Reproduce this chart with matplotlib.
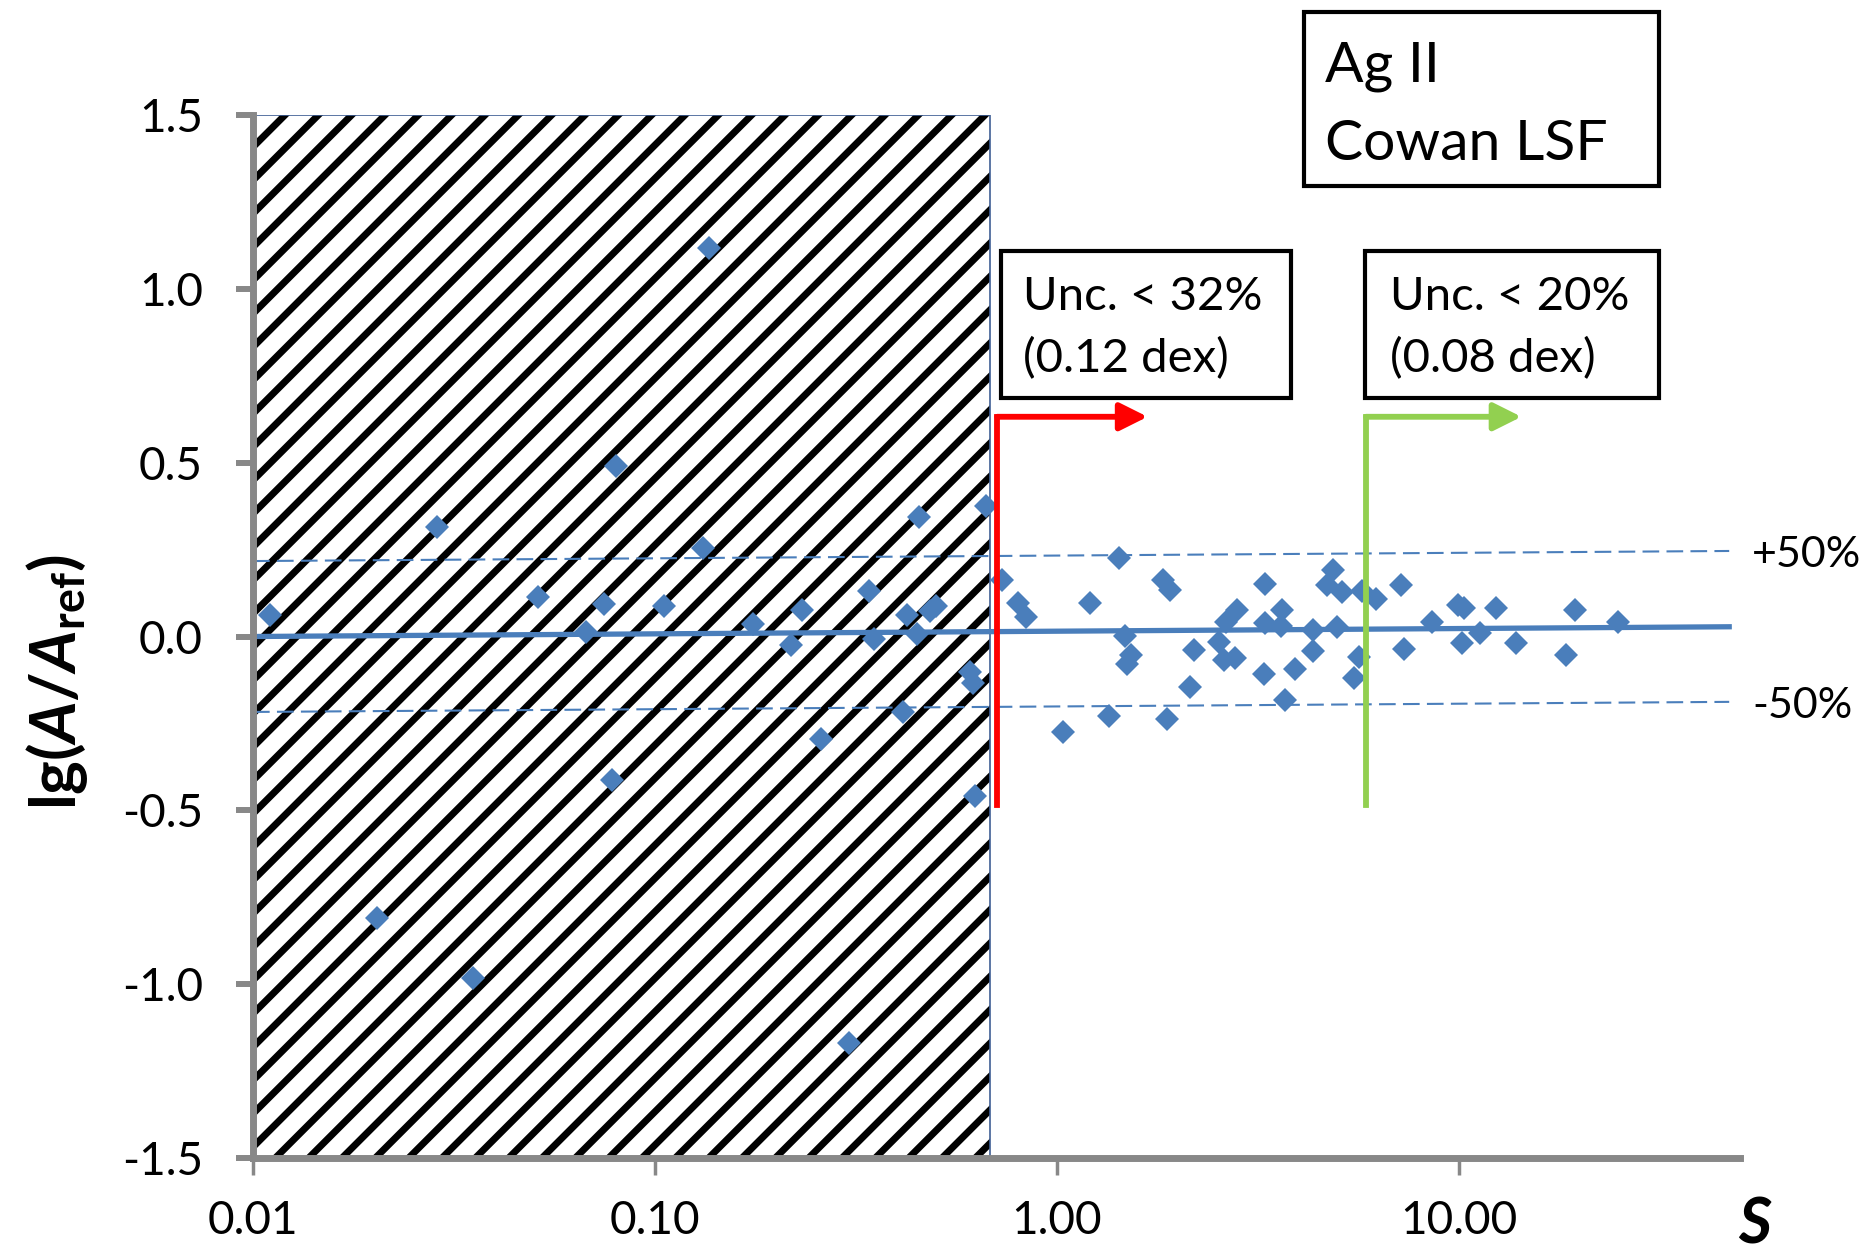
import matplotlib
matplotlib.use("Agg")
import matplotlib.pyplot as plt
from matplotlib.patches import Rectangle
from matplotlib.ticker import FixedLocator, FixedFormatter, NullLocator

# line strength S and lg(A/Aref)
s_vals = [0.011, 0.0203, 0.0287, 0.0352, 0.0513, 0.0672, 0.0747, 0.0798, 0.0782, 0.1054,
          0.136, 0.1318, 0.175, 0.2176, 0.232, 0.259, 0.304, 0.341, 0.351, 0.414,
          0.4226, 0.454, 0.448, 0.484, 0.499, 0.608, 0.617, 0.625, 0.667,
          0.731, 0.80, 0.839, 1.034, 1.21, 1.345, 1.43, 1.48, 1.528, 1.494,
          1.84, 1.914, 1.883, 2.197, 2.14, 2.53, 2.64, 2.81, 2.61, 2.77,
          3.30, 3.30, 3.28, 3.63, 3.61, 3.69, 3.91, 4.33, 4.33, 4.70,
          4.85, 5.13, 4.96, 5.47, 5.65, 5.74, 6.22, 7.17, 7.28, 8.55,
          9.97, 10.29, 10.2, 11.3, 12.36, 13.87, 18.5, 19.4, 24.9]
lg_vals = [0.062, -0.81, 0.315, -0.982, 0.113, 0.013, 0.094, 0.49, -0.412, 0.089,
           1.118, 0.254, 0.036, -0.024, 0.077, -0.295, -1.17, 0.131, -0.008, -0.216,
           0.062, 0.344, 0.007, 0.072, 0.087, -0.102, -0.134, -0.458, 0.374,
           0.162, 0.095, 0.057, -0.276, 0.095, -0.229, 0.225, 0.001, -0.053, -0.079,
           0.162, 0.134, -0.237, -0.039, -0.144, -0.015, 0.043, 0.076, -0.068, -0.063,
           0.151, 0.038, -0.108, 0.077, 0.030, -0.183, -0.094, 0.019, -0.041, 0.148,
           0.191, 0.129, 0.028, -0.118, -0.060, 0.132, 0.107, 0.148, -0.037, 0.043,
           0.091, 0.081, -0.018, 0.009, 0.083, -0.018, -0.053, 0.076, 0.043]

# fit line and the +-50% band (end points)
fit_s = [0.01, 47.0]
fit_lg = [0.000, 0.028]
band_hi = [0.217, 0.246]
band_lo = [-0.217, -0.188]

cut_s = 0.68          # lines below this S are hatched out
red_s, red_tip = 0.71, 1.68
green_s, green_tip = 5.87, 14.3
flag_lo, flag_hi = -0.485, 0.632

xticks = [0.01, 0.1, 1.0, 10.0]
xtick_labels = ["0.01", "0.10", "1.00", "10.00"]
yticks = [-1.5, -1.0, -0.5, 0.0, 0.5, 1.0, 1.5]
ytick_labels = ["-1.5", "-1.0", "-0.5", "0.0", "0.5", "1.0", "1.5"]

blue = "#4a7ebb"
gray = "#888888"

plt.rcParams['font.family'] = ['Lato', 'DejaVu Sans']
plt.rcParams['mathtext.fontset'] = 'custom'
plt.rcParams['mathtext.rm'] = 'Lato'
plt.rcParams['mathtext.bf'] = 'Lato:bold'
plt.rcParams['mathtext.it'] = 'Lato:italic'
plt.rcParams['mathtext.bfit'] = 'Lato:bold:italic'
plt.rcParams['hatch.linewidth'] = 5.0
plt.rcParams['hatch.color'] = 'black'

W, H = 1862, 1250
fig = plt.figure(figsize=(W / 100, H / 100), dpi=100)
ax = fig.add_axes([253 / W, 1 - 1158 / H, (1740 - 253) / W, (1158 - 115) / H])
ax.set_xscale('log')
ax.set_xlim(0.01, 50)
ax.set_ylim(-1.5, 1.5)

# hatched region
ax.add_patch(Rectangle((0.01, -1.5), cut_s - 0.01, 3.0, facecolor='white',
                       edgecolor='black', hatch='/', lw=0, zorder=1))
ax.add_patch(Rectangle((0.01, -1.5), cut_s - 0.01, 3.0, fill=False,
                       edgecolor='#3f5f95', lw=1.2, zorder=1.5))

ax.plot(fit_s, band_hi, color=blue, lw=1.5, dashes=(8, 3.5), zorder=2)
ax.plot(fit_s, band_lo, color=blue, lw=1.5, dashes=(8, 3.5), zorder=2)
ax.plot(fit_s, fit_lg, color=blue, lw=3.8, zorder=2)
ax.plot(s_vals, lg_vals, linestyle='none', marker='D', ms=12.0, mew=0,
        color=blue, zorder=3)

# uncertainty flags
for xs, xt, col in [(red_s, red_tip, '#ff0000'), (green_s, green_tip, '#92d050')]:
    ax.plot([xs, xs], [flag_lo, flag_hi], color=col, lw=4.2,
            solid_capstyle='projecting', zorder=4)
    ax.annotate('', xy=(xt, flag_hi), xytext=(xs, flag_hi),
                arrowprops=dict(arrowstyle='-|>,head_length=0.42,head_width=0.21',
                                color=col, lw=4.2, shrinkA=0, shrinkB=0,
                                mutation_scale=40), zorder=4)

for side in ['top', 'right']:
    ax.spines[side].set_visible(False)
for side in ['left', 'bottom']:
    ax.spines[side].set_color(gray)
    ax.spines[side].set_linewidth(5)

ax.xaxis.set_major_locator(FixedLocator(xticks))
ax.xaxis.set_major_formatter(FixedFormatter(xtick_labels))
ax.xaxis.set_minor_locator(NullLocator())
ax.yaxis.set_major_locator(FixedLocator(yticks))
ax.yaxis.set_major_formatter(FixedFormatter(ytick_labels))
ax.tick_params(axis='x', length=12, width=2.5, color=gray, labelsize=33, pad=18)
ax.tick_params(axis='y', length=12, width=4.3, color=gray, labelsize=33, pad=24)

ax.set_ylabel(r'$\mathbf{lg(}\mathbfit{A}\mathbf{/}\mathbfit{A}_{\mathbf{ref}}\mathbf{)}$',
              fontsize=46, va='baseline')
ax.yaxis.set_label_coords((76 - 253) / (1740 - 253), 0.456)

fig.text(1755 / W, 1 - 1243 / H, 'S', fontsize=46, fontweight='bold',
         fontstyle='italic', ha='center', va='baseline')

fig.text(1752 / W, 1 - 567 / H, '+50%', fontsize=31, va='baseline')
fig.text(1752 / W, 1 - 718 / H, '-50%', fontsize=31, va='baseline')

# boxes
boxes = [
    (1304, 12, 1659, 186, 1325, [82, 160], ['Ag II', 'Cowan LSF'], 41),
    (1001, 251, 1291, 398, 1023, [310, 372], ['Unc. < 32%', '(0.12 dex)'], 34),
    (1365, 251, 1659, 398, 1390, [310, 372], ['Unc. < 20%', '(0.08 dex)'], 34),
]
for x0, y0, x1, y1, tx, bases, lines, fs in boxes:
    fig.patches.append(Rectangle((x0 / W, 1 - y1 / H), (x1 - x0) / W, (y1 - y0) / H,
                                 transform=fig.transFigure, fill=False,
                                 edgecolor='black', lw=3))
    for b, t in zip(bases, lines):
        fig.text(tx / W, 1 - b / H, t, fontsize=fs, va='baseline')

fig.savefig('out.png', dpi=100)
